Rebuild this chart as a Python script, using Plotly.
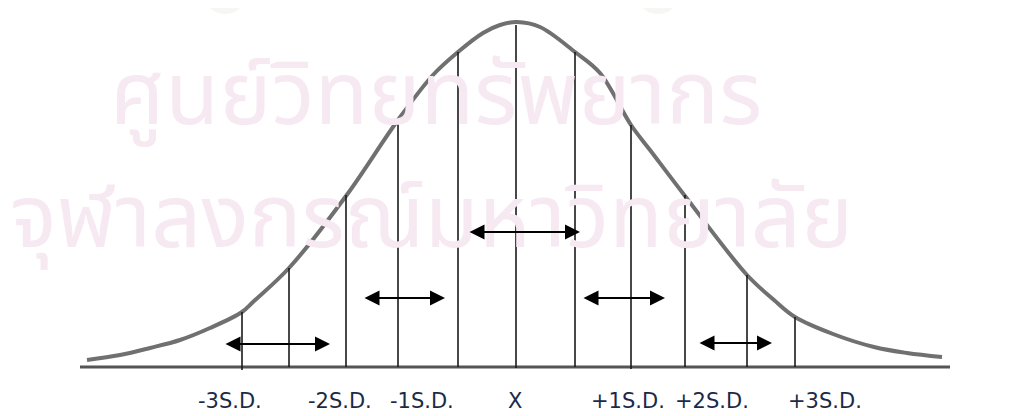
import plotly.graph_objects as go

# ---- data (x = horizontal position, y = height above baseline) ----
BASE = 367  # pixel row of baseline, used only to convert read pixel rows to heights

curve_x = [87, 120, 150, 180, 210, 242, 253, 289, 346, 398, 433, 458, 483, 500, 517,
           540, 575, 600, 631, 650, 685, 747, 774, 795, 833, 874, 907, 942]
curve_row = [360, 355, 348, 340, 328, 312, 302, 268, 196, 120, 75, 52, 33, 25, 22,
             27, 52, 73, 125, 150, 196, 275, 300, 317, 334, 347, 353, 357]

vline_x = [242, 289, 346, 398, 458, 516, 575, 631, 685, 747, 795]
vline_top_row = [312, 268, 195, 120, 52, 25, 52, 125, 195, 275, 317]
vline_bot_row = [370, 367, 367, 367, 367, 368, 367, 369, 367, 367, 367]

arrow_x0 = [468, 363, 582, 224, 698]
arrow_x1 = [580, 445, 665, 330, 772]
arrow_row = [232, 298, 298, 344, 343]

label_text = ["-3S.D.", "-2S.D.", "-1S.D.", "X", "+1S.D.", "+2S.D.", "+3S.D."]
label_x = [230, 340, 422, 515, 628, 712, 825]
label_bottom_row = 415

baseline_x = [80, 950]

watermark_lines = ["ศูนย์วิทยทรัพยากร", "จุฬาลงกรณ์มหาวิทยาลัย"]
watermark_x = [108, 8]
watermark_center_row = [99, 222]

def h(r):
    return BASE - r

PAGE_OFF = 8      # browser body margin
W, H = 1014, 416
WM_SIZE = 88

fig = go.Figure()

# watermark
for t, x, r in zip(watermark_lines, watermark_x, watermark_center_row):
    fig.add_annotation(x=x, y=h(r + 0.76 * WM_SIZE), text=t, showarrow=False,
                       xanchor="left", yanchor="bottom",
                       font=dict(family="Umpush, Laksaman, Noto Sans Thai, Loma, Garuda, sans-serif",
                                 size=WM_SIZE, color="#f6e9f2"))

# faint seal blobs at top
for cx in [225, 658]:
    fig.add_shape(type="circle", x0=cx - 18, x1=cx + 18, y0=h(-14), y1=h(14),
                  fillcolor="#f6f6f2", line=dict(width=0), layer="below")

# baseline
fig.add_trace(go.Scatter(x=baseline_x, y=[0, 0], mode="lines",
                         line=dict(color="#555555", width=3), hoverinfo="skip"))

# curve
fig.add_trace(go.Scatter(x=curve_x, y=[h(r) for r in curve_row], mode="lines",
                         line=dict(color="#707070", width=4, shape="spline", smoothing=1.0),
                         hoverinfo="skip"))

# vertical lines
vx, vy = [], []
for x, t, b in zip(vline_x, vline_top_row, vline_bot_row):
    vx += [x, x, None]
    vy += [h(b), h(t), None]
fig.add_trace(go.Scatter(x=vx, y=vy, mode="lines",
                         line=dict(color="#1a1a1a", width=1.6), hoverinfo="skip"))

# double arrows
for x0, x1, r in zip(arrow_x0, arrow_x1, arrow_row):
    fig.add_annotation(x=x1, y=h(r), ax=x0, ay=h(r), xref="x", yref="y",
                       axref="x", ayref="y", text="", showarrow=True,
                       arrowhead=2, startarrowhead=2, arrowside="end+start",
                       arrowsize=1.5, startarrowsize=1.5, arrowwidth=2,
                       arrowcolor="#000000", standoff=0, startstandoff=0)

# labels
for t, x in zip(label_text, label_x):
    fig.add_annotation(x=x, y=h(label_bottom_row), text=t, showarrow=False,
                       xanchor="center", yanchor="bottom",
                       font=dict(family="DejaVu Sans", size=21, color="#1c2a48"))

fig.update_layout(
    width=W - PAGE_OFF, height=H - PAGE_OFF,
    margin=dict(l=0, r=0, t=0, b=0),
    paper_bgcolor="white", plot_bgcolor="white",
    showlegend=False,
    xaxis=dict(range=[PAGE_OFF, W], visible=False, fixedrange=True),
    yaxis=dict(range=[h(H), h(PAGE_OFF)], visible=False, fixedrange=True),
)

fig.write_html("out.html", config={"displayModeBar": False})
